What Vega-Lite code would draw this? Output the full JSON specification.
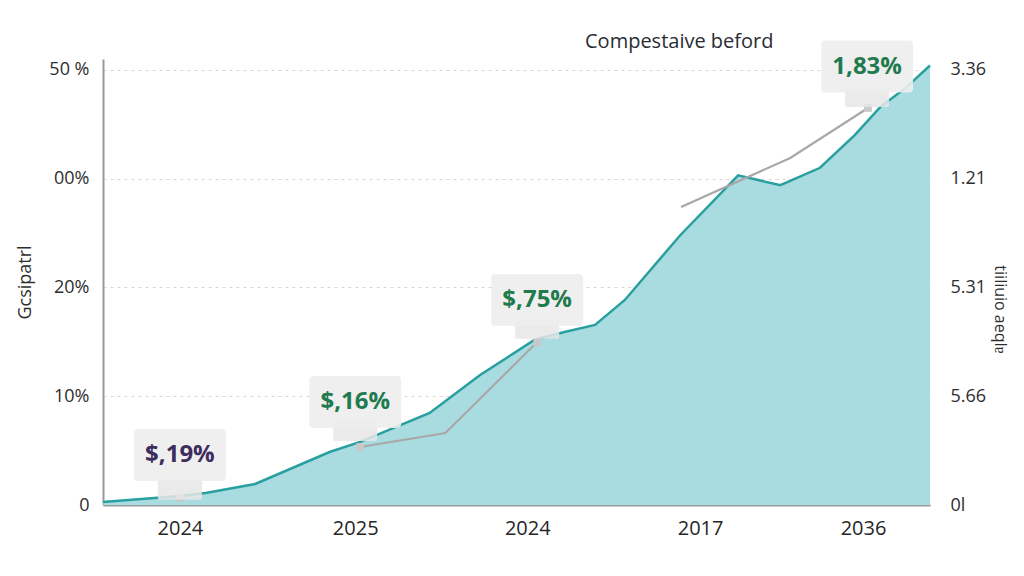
{
  "$schema": "https://vega.github.io/schema/vega-lite/v6.json",
  "width": 827,
  "height": 446,
  "autosize": {"type": "none"},
  "padding": {"left": 103, "top": 59, "right": 94, "bottom": 71},
  "background": "#ffffff",
  "title": {"text": "Compestaive beford", "anchor": "start", "frame": "group", "dx": 482, "offset": -11, "fontSize": 20, "font": "Open Sans", "fontWeight": 500, "color": "#2a2d33"},
  "config": {
    "view": {"stroke": null},
    "axis": {"labelFont": "Open Sans", "titleFont": "Open Sans", "labelColor": "#2e2e2e", "titleColor": "#2e2e2e"}
  },
  "datasets": {
    "area": [
      {"x": 0, "y": 0.28},
      {"x": 0.93, "y": 0.83},
      {"x": 1.24, "y": 1.1},
      {"x": 1.84, "y": 1.93},
      {"x": 2.74, "y": 4.87},
      {"x": 3.11, "y": 5.8},
      {"x": 3.95, "y": 8.46},
      {"x": 4.56, "y": 11.95},
      {"x": 5.22, "y": 15.2},
      {"x": 5.58, "y": 15.9},
      {"x": 5.95, "y": 16.55},
      {"x": 6.31, "y": 18.85},
      {"x": 6.98, "y": 24.8},
      {"x": 7.68, "y": 30.3},
      {"x": 8.19, "y": 29.4},
      {"x": 8.67, "y": 31.0},
      {"x": 9.09, "y": 34.0},
      {"x": 9.4, "y": 36.6},
      {"x": 9.7, "y": 38.3},
      {"x": 10, "y": 40.4}
    ],
    "gray": [
      {"seg": "a", "x": 3.11, "y": 5.33},
      {"seg": "a", "x": 4.14, "y": 6.62},
      {"seg": "a", "x": 5.25, "y": 14.98},
      {"seg": "b", "x": 6.99, "y": 27.4},
      {"seg": "b", "x": 8.31, "y": 31.9},
      {"seg": "b", "x": 9.25, "y": 36.5}
    ],
    "dots": [
      {"x": 0.93, "y": 0.64},
      {"x": 3.11, "y": 5.33},
      {"x": 5.25, "y": 14.98},
      {"x": 9.25, "y": 36.5}
    ],
    "ann": [
      {"x": 0.93, "y": 4.6, "sy": 1.4, "label": "$,19%", "c": "#3d2c5c"},
      {"x": 3.05, "y": 9.47, "sy": 6.8, "label": "$,16%", "c": "#1f7a4e"},
      {"x": 5.25, "y": 18.85, "sy": 16.2, "label": "$,75%", "c": "#1f7a4e"},
      {"x": 9.24, "y": 40.3, "sy": 37.5, "label": "1,83%", "c": "#1f7a4e"}
    ]
  },
  "resolve": {"axis": {"y": "independent"}},
  "layer": [
    {
      "data": {"name": "area"},
      "mark": {"type": "area", "color": "#a9dce1", "opacity": 1, "line": {"color": "#2a9fa0", "strokeWidth": 2.5}},
      "encoding": {
        "x": {"field": "x", "type": "quantitative", "scale": {"domain": [0, 10], "nice": false, "zero": false},
          "axis": {"values": [0.93, 3.05, 5.13, 7.22, 9.19], "labelExpr": "datum.value < 1 ? '2024' : datum.value < 4 ? '2025' : datum.value < 6 ? '2024' : datum.value < 8 ? '2017' : '2036'",
            "title": null, "grid": false, "ticks": false, "domain": true, "domainColor": "#9a9a9a", "domainWidth": 2, "labelFontSize": 20, "labelPadding": 13, "labelColor": "#262626"}},
        "y": {"field": "y", "type": "quantitative", "scale": {"domain": [0, 41], "nice": false},
          "axis": {"orient": "left", "values": [0, 10, 20, 30, 40],
            "labelExpr": "datum.value == 0 ? '0' : datum.value == 10 ? '10%' : datum.value == 20 ? '20%' : datum.value == 30 ? '00%' : '50 %'",
            "title": "Gcsipatrl", "titleFontSize": 18, "titleFontWeight": "normal", "titlePadding": 14,
            "grid": true, "gridDash": [3, 4], "gridColor": "#d6d6d6", "gridWidth": 1.2,
            "ticks": false, "domain": true, "domainColor": "#9a9a9a", "domainWidth": 2, "labelFontSize": 18, "labelPadding": 14}}
      }
    },
    {
      "data": {"name": "area"},
      "mark": {"type": "rule", "opacity": 0},
      "encoding": {
        "x": {"field": "x", "type": "quantitative"},
        "y": {"field": "y", "type": "quantitative",
          "axis": {"orient": "right", "values": [0, 10, 20, 30, 40],
            "labelExpr": "datum.value == 0 ? '0l' : datum.value == 10 ? '5.66' : datum.value == 20 ? '5.31' : datum.value == 30 ? '1.21' : '3.36'",
            "title": "tiiliuio aeqlɐ", "titleAngle": 90, "titleFontSize": 16, "titleFontWeight": "normal", "titlePadding": 6, "titleY": 250,
            "grid": false, "ticks": false, "domain": false, "labelFontSize": 18, "labelPadding": 20}}
      }
    },
    {
      "data": {"name": "gray"},
      "mark": {"type": "line", "color": "#a8a8a8", "strokeWidth": 2.2},
      "encoding": {
        "x": {"field": "x", "type": "quantitative"},
        "y": {"field": "y", "type": "quantitative", "axis": null},
        "detail": {"field": "seg"}
      }
    },
    {
      "data": {"name": "dots"},
      "mark": {"type": "square", "color": "#c8c8c8", "size": 60, "opacity": 1},
      "encoding": {
        "x": {"field": "x", "type": "quantitative"},
        "y": {"field": "y", "type": "quantitative", "axis": null}
      }
    },
    {
      "data": {"name": "ann"},
      "mark": {"type": "rect", "width": 44, "height": 20, "color": "#e6e6e6", "opacity": 0.85, "cornerRadius": 2},
      "encoding": {
        "x": {"field": "x", "type": "quantitative"},
        "y": {"field": "sy", "type": "quantitative", "axis": null}
      }
    },
    {
      "data": {"name": "ann"},
      "mark": {"type": "rect", "width": 92, "height": 52, "color": "#ededed", "opacity": 0.9, "cornerRadius": 4},
      "encoding": {
        "x": {"field": "x", "type": "quantitative"},
        "y": {"field": "y", "type": "quantitative", "axis": null}
      }
    },
    {
      "data": {"name": "ann"},
      "mark": {"type": "text", "fontSize": 24, "fontWeight": "bold", "font": "Open Sans", "baseline": "middle", "align": "center"},
      "encoding": {
        "x": {"field": "x", "type": "quantitative"},
        "y": {"field": "y", "type": "quantitative", "axis": null},
        "text": {"field": "label"},
        "color": {"field": "c", "type": "nominal", "scale": null}
      }
    }
  ]
}
